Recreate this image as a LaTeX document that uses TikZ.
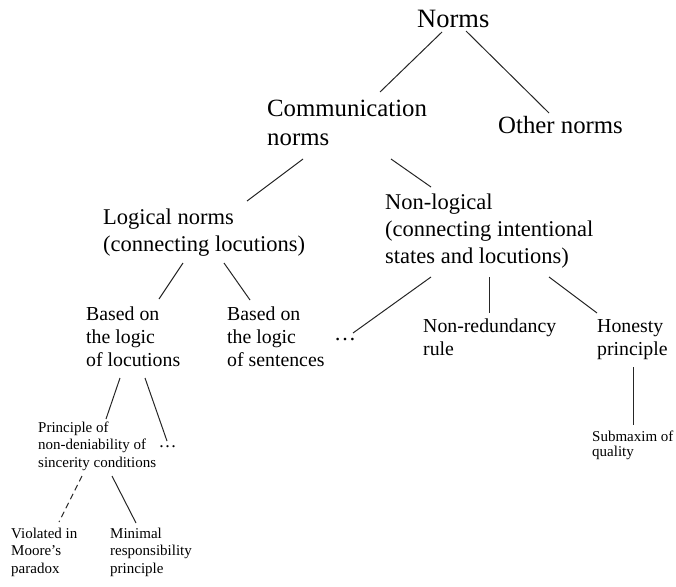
\documentclass[tikz,border=0pt]{standalone}
\usepackage{fontspec}
\setmainfont{Liberation Serif}
\tikzset{
  lbl/.style={anchor=north west, inner sep=0pt, align=left},
  fa/.style={lbl, font=\fontsize{26.5}{30}\selectfont},
  fb/.style={lbl, font=\fontsize{24.8}{29.5}\selectfont},
  fc/.style={lbl, font=\fontsize{22.5}{27}\selectfont},
  fd/.style={lbl, font=\fontsize{19.8}{23}\selectfont},
  fe/.style={lbl, font=\fontsize{15}{17.4}\selectfont},
  ff/.style={lbl, font=\fontsize{15}{15.5}\selectfont},
  dotsnode/.style={anchor=base, inner sep=0pt},
  conn/.style={line width=1pt, draw=black!85},
  dconn/.style={conn, dash pattern=on 6pt off 4pt}
}
\newcommand{\tp}{\rule{0pt}{0.75em}}
\begin{document}
\begin{tikzpicture}[x=1pt, y=-1pt]
\useasboundingbox (0,0) rectangle (676,586);
\node[fa] (norms) at (417,7.1) {\tp Norms};
\node[fb] (comm) at (267,97.4) {\tp Communication\\norms};
\node[fb] (other) at (498,114.4) {\tp Other norms};
\node[fc] (logical) at (103,207.1) {\tp Logical norms\\(connecting locutions)};
\node[fc] (nonlog) at (385,192.4) {\tp Non-logical\\(connecting intentional\\states and locutions)};
\node[fd] (basedloc) at (86,305.15) {\tp Based on\\the logic\\of locutions};
\node[fd] (basedsent) at (227,305.15) {\tp Based on\\the logic\\of sentences};
\node[fd] (nonred) at (423,317.15) {\tp Non-redundancy\\rule};
\node[fd] (honesty) at (597,317.15) {\tp Honesty\\principle};
\node[fe] (principle) at (38,420.75) {\tp Principle of\\non-deniability of\\sincerity conditions};
\node[fe] (violated) at (11,526.75) {\tp Violated in\\Moore’s\\paradox};
\node[fe] (minimal) at (110,526.75) {\tp Minimal\\responsibility\\principle};
\node[ff] (submaxim) at (592,429.75) {\tp Submaxim of\\quality};
\node[dotsnode, font=\fontsize{22}{24}\selectfont] (dotsR) at (345,340) {…};
\node[dotsnode, font=\fontsize{18}{20}\selectfont] (dotsL) at (167.5,447) {…};

\draw[conn] ([shift={(25,24.9)}]norms.north west) -- ([shift={(113,-5.4)}]comm.north west);
\draw[conn] ([shift={(49,23.9)}]norms.north west) -- ([shift={(51,-1.4)}]other.north west);
\draw[conn] ([shift={(36,61.6)}]comm.north west) -- ([shift={(144,-6.1)}]logical.north west);
\draw[conn] ([shift={(124,61.6)}]comm.north west) -- ([shift={(46,-5.4)}]nonlog.north west);
\draw[conn] ([shift={(80,55.9)}]logical.north west) -- ([shift={(73,-6.15)}]basedloc.north west);
\draw[conn] ([shift={(121,55.9)}]logical.north west) -- ([shift={(23,-5.15)}]basedsent.north west);
\draw[conn] ([shift={(46,84.6)}]nonlog.north west) -- ([shift={(8,-7)}]dotsR.base);
\draw[conn] ([shift={(104,84.6)}]nonlog.north west) -- ([shift={(66,-4.15)}]nonred.north west);
\draw[conn] ([shift={(164,84.6)}]nonlog.north west) -- ([shift={(0,-4.15)}]honesty.north west);
\draw[conn] ([shift={(36,49.85)}]honesty.north west) -- ([shift={(41,-4.75)}]submaxim.north west);
\draw[conn] ([shift={(34,72.85)}]basedloc.north west) -- ([shift={(68,-1.75)}]principle.north west);
\draw[conn] ([shift={(59,72.85)}]basedloc.north west) -- ([shift={(-0.5,-6)}]dotsL.base);
\draw[dconn] ([shift={(44,55.25)}]principle.north west) -- ([shift={(48,-4.75)}]violated.north west);
\draw[conn] ([shift={(74,55.25)}]principle.north west) -- ([shift={(26,-3.75)}]minimal.north west);
\end{tikzpicture}
\end{document}
